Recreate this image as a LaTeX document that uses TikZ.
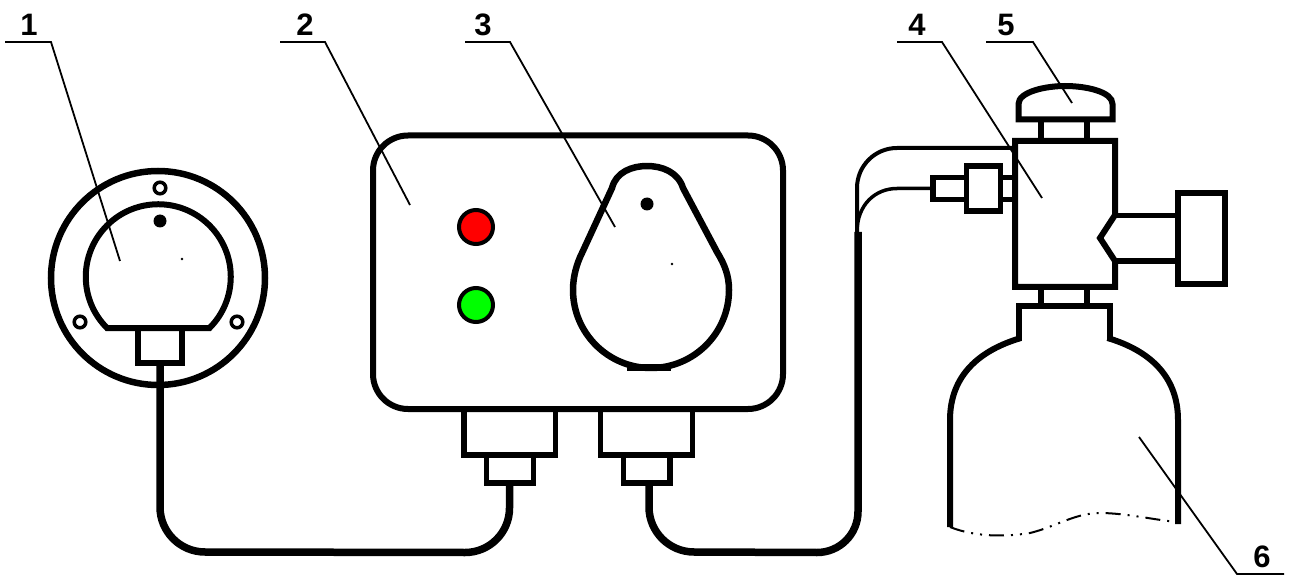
\documentclass[tikz,border=0pt]{standalone}
\usepackage{fontspec}
\setmainfont{Liberation Sans}
\tikzset{
  thick5/.style={draw=black,line width=5.5pt,line join=miter},
  thick6/.style={draw=black,line width=6pt,line join=miter},
  cable/.style={draw=black,line width=7.5pt},
  leader/.style={draw=black,line width=1.8pt},
  num/.style={font=\fontsize{31}{31}\selectfont\bfseries,inner sep=0pt,anchor=center},
  lamp/.style={draw=black,line width=4pt}
}
\begin{document}
\begin{tikzpicture}[x=1pt,y=-1pt]
\useasboundingbox (0,0) rectangle (1293,577);
% gauge
\draw[thick6,line width=6.5pt] (158,278) circle (107);
\draw[thick6] (107,328) arc[start angle=135,end angle=405,radius=72.5] -- cycle;
\draw[thick5] (138,328) rectangle (182,363);
\fill (160,221) circle (6.5);
\fill (182,259) circle (1.3);
\foreach \p in {(160,188),(80,322),(237,322)} \draw[draw=black,line width=3.5pt] \p circle (5.8);
% cable 1
\draw[cable] (160,365) -- (160,507) arc[start angle=180,end angle=90,radius=45] -- (465,552.5) arc[start angle=90,end angle=0,radius=44.5] -- (509.5,485);
% box
\draw[thick6] (373,135.5) [rounded corners=35pt] -- (783,135.5) -- (783,409) -- (373,409) -- cycle;
\draw[thick5] (464,409) rectangle (555.5,455);
\draw[thick5] (486.5,455) rectangle (533.5,483);
\draw[thick5] (600.5,409) rectangle (692.5,455);
\draw[thick5] (623.5,455) rectangle (670,483);
\draw[lamp,fill=red] (476,227) circle (17);
\draw[lamp,fill=green] (476,305) circle (17);
% pear
\draw[thick6,line join=round,line width=6.5pt] (612,188) .. controls (616,172) and (632,166) .. (647,166)
  .. controls (662,166) and (678,172) .. (683,188) -- (717,252)
  .. controls (725,265) and (729,276) .. (729,290)
  .. controls (729,333) and (694,368) .. (651,368)
  .. controls (608,368) and (573,333) .. (573,290)
  .. controls (573,276) and (577,263) .. (582,253) -- cycle;
\fill (627,364) rectangle (671,371);
\fill (647,204) circle (6.5);
\fill (672,264) circle (1.3);
% cable 2
\draw[cable] (649,485) -- (649,507) arc[start angle=180,end angle=90,radius=45] -- (817,552.5) arc[start angle=90,end angle=0,radius=41] -- (858,232);
% hoses
\draw[draw=black,line width=4pt] (857,232) -- (857,188) arc[start angle=180,end angle=270,radius=40] -- (1015,148);
\draw[draw=black,line width=3.5pt] (857,232) .. controls (857,205) and (875,188.5) .. (897,188.5) -- (933,188.5);
% fitting
\draw[thick5] (933,177.5) rectangle (966.5,199.5);
\draw[thick5] (966.5,166) rectangle (1000.5,211);
\draw[thick5] (1000.5,177.5) rectangle (1015,199.5);
% valve
\draw[thick6] (1015,141) -- (1115,141) -- (1115,215) -- (1100,238) -- (1115,261) -- (1115,287) -- (1015,287) -- cycle;
\draw[thick5] (1115,215.5) -- (1178,215.5);
\draw[thick5] (1115,261) -- (1178,261);
\draw[thick6] (1178,193) rectangle (1224.5,284);
\draw[thick6] (1018.5,119.5) -- (1018.5,104) .. controls (1018.5,92) and (1045,86) .. (1065,86)
  .. controls (1087,86) and (1112.5,92) .. (1112.5,104) -- (1112.5,119.5) -- cycle;
\draw[thick6] (1041,119.5) -- (1041,141) (1087,119.5) -- (1087,141) (1041,287) -- (1041,307) (1087,287) -- (1087,307);
% cylinder
\draw[thick6] (1019,341) -- (1019,306.5) -- (1109.5,306.5) -- (1109.5,341);
\draw[thick6] (1021,338) .. controls (980,350) and (950,375) .. (950,420) -- (950,527);
\draw[thick6] (1107.5,338) .. controls (1148,350) and (1178,375) .. (1178,420) -- (1178,524);
\draw[draw=black,line width=2pt,dash pattern=on 15pt off 7pt on 2pt off 7pt on 2pt off 7pt]
  (950,527) .. controls (975,537) and (1005,537) .. (1030,533) .. controls (1055,527) and (1075,513) .. (1100,513) .. controls (1125,513) and (1155,520) .. (1177,522);
% labels
\node[num] (n1) at (29,25) {1};
\node[num] (n2) at (305,25) {2};
\node[num] (n3) at (483,25) {3};
\node[num] (n4) at (917,25) {4};
\node[num] (n5) at (1006,25) {5};
\node[num] (n6) at (1262,557) {6};
\draw[leader] (5,42) -- (51,42) -- (120,261);
\draw[leader] (280,42) -- (325,42) -- (410,205);
\draw[leader] (465,42) -- (510,42) -- (615,227);
\draw[leader] (897,42) -- (942,42) -- (1042,198);
\draw[leader] (986,42) -- (1033,42) -- (1072,103);
\draw[leader] (1139,437) -- (1237,574) -- (1284,574);
\end{tikzpicture}
\end{document}
